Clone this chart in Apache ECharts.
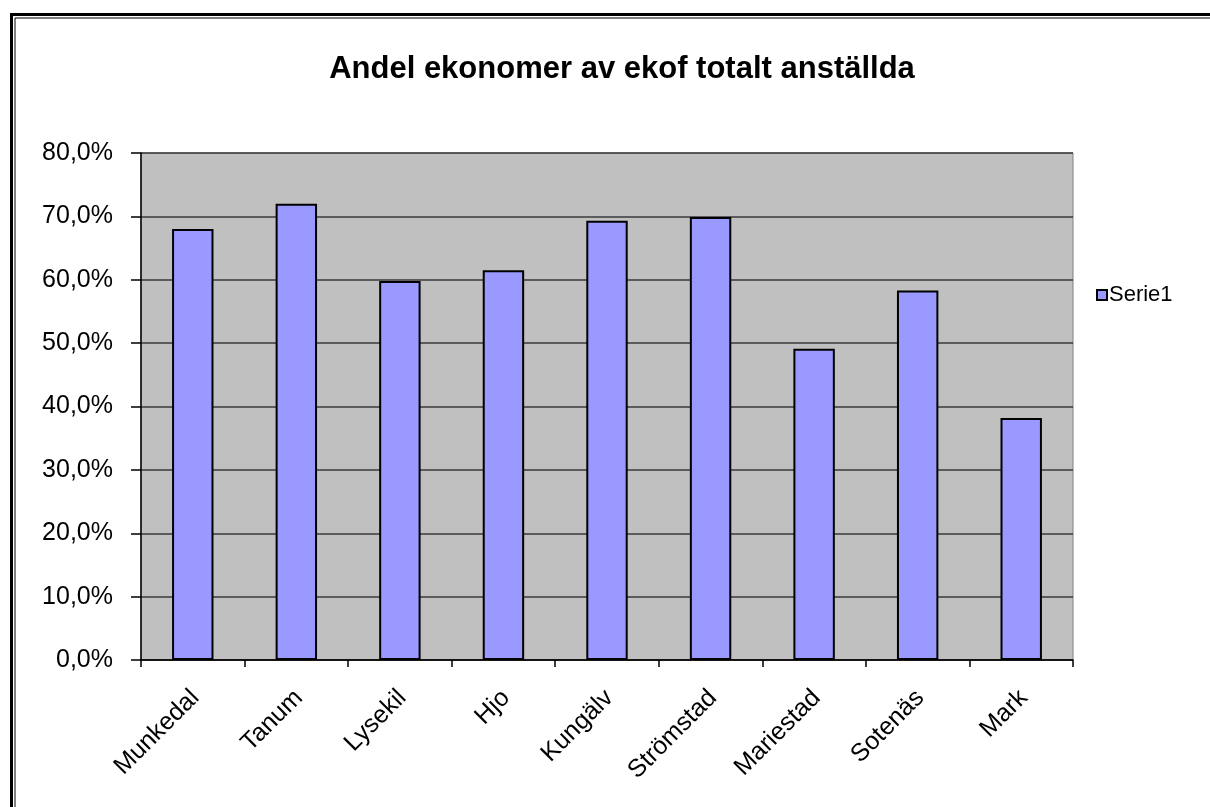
<!DOCTYPE html>
<html>
<head>
<meta charset="utf-8">
<script src="https://cdn.jsdelivr.net/npm/echarts@6/dist/echarts.min.js"></script>
<style>
  html, body { margin: 0; padding: 0; background: #ffffff; }
  #chart { width: 1210px; height: 807px; }
</style>
</head>
<body>
<div id="chart"></div>
<script>
// Municipalities on the category axis
const categories = ['Munkedal', 'Tanum', 'Lysekil', 'Hjo', 'Kungälv', 'Strömstad', 'Mariestad', 'Sotenäs', 'Mark'];
// Share of economists among all ekof staff, in percent
const serie1 = [68.0, 72.0, 59.8, 61.5, 69.3, 69.9, 49.1, 58.3, 38.2];
const seriesName = 'Serie1';
const titleText = 'Andel ekonomer av ekof totalt anställda';
// Value axis range and step (percent)
const yMin = 0, yMax = 80, yStep = 10;

const fontFamily = '"Liberation Sans", Arial, sans-serif';
const chart = echarts.init(document.getElementById('chart'), null, { renderer: 'canvas' });

chart.setOption({
  backgroundColor: '#ffffff',
  animation: false,
  textStyle: { fontFamily: fontFamily },
  title: {
    text: titleText,
    left: 617,
    top: 49,
    textAlign: 'center',
    textStyle: { fontFamily: fontFamily, fontSize: 31, fontWeight: 'bold', color: '#000' }
  },
  legend: {
    data: [seriesName],
    orient: 'vertical',
    left: 1091,
    top: 279,
    icon: 'rect',
    itemWidth: 10,
    itemHeight: 10,
    itemGap: 4,
    textStyle: { fontFamily: fontFamily, fontSize: 22, color: '#000', padding: [0, 0, 0, -3] }
  },
  grid: {
    left: 141,
    right: 137,
    top: 153,
    bottom: 147,
    show: true,
    backgroundColor: '#C0C0C0',
    borderColor: '#808080',
    borderWidth: 1
  },
  xAxis: {
    type: 'category',
    data: categories,
    boundaryGap: true,
    axisLine: { show: true, lineStyle: { color: '#000', width: 1.5 } },
    axisTick: { show: true, alignWithLabel: false, length: 7, lineStyle: { color: '#000', width: 1.5 } },
    axisLabel: {
      rotate: 45,
      margin: 16,
      fontFamily: fontFamily,
      fontSize: 25,
      color: '#000',
      interval: 0,
      verticalAlign: 'top',
      padding: [2, 11, 0, 0]
    },
    splitLine: { show: false }
  },
  yAxis: {
    type: 'value',
    min: yMin,
    max: yMax,
    interval: yStep,
    axisLine: { show: true, lineStyle: { color: '#000', width: 1.5 } },
    axisTick: { show: true, length: 10, lineStyle: { color: '#000', width: 1.5 } },
    axisLabel: {
      margin: 28,
      fontFamily: fontFamily,
      fontSize: 25,
      color: '#000',
      formatter: function (v) { return v.toFixed(1).replace('.', ',') + '%'; }
    },
    splitLine: { show: true, lineStyle: { color: '#3a3a3a', width: 1.5 } }
  },
  series: [{
    name: seriesName,
    type: 'bar',
    data: serie1,
    barCategoryGap: '60%',
    itemStyle: { color: '#9999FF', borderColor: '#000', borderWidth: 2 }
  }],
  graphic: [
    // double outer frame (continues past the right and bottom edges)
    { type: 'rect', silent: true, z: 100,
      shape: { x: 11.5, y: 14.5, width: 1400, height: 1000 },
      style: { fill: 'none', stroke: '#000', lineWidth: 3 } },
    { type: 'rect', silent: true, z: 100,
      shape: { x: 15, y: 18, width: 1400, height: 1000 },
      style: { fill: 'none', stroke: '#000', lineWidth: 1 } }
  ]
});
</script>
</body>
</html>
